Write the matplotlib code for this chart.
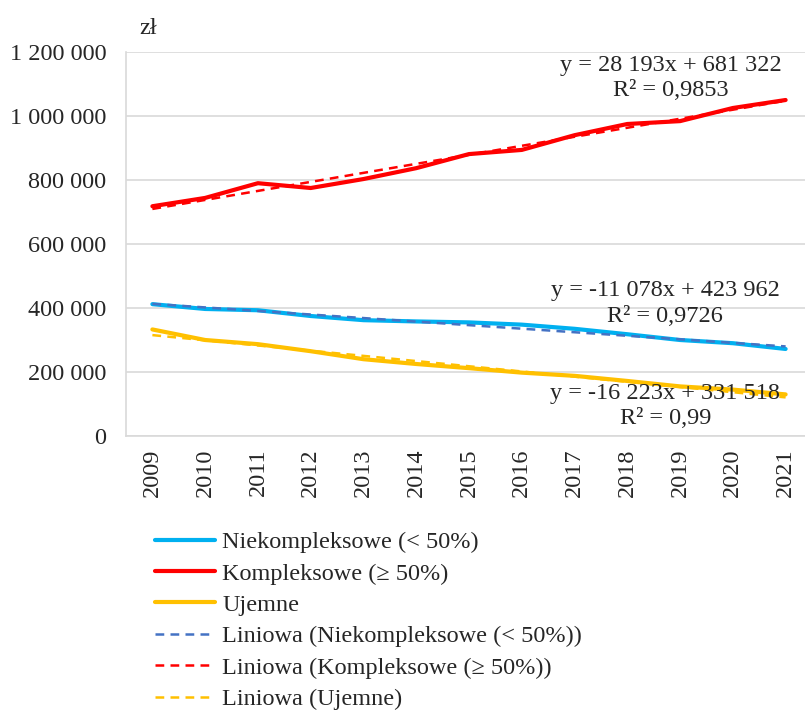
import numpy as np
import matplotlib
matplotlib.use("Agg")
import matplotlib.pyplot as plt
from matplotlib.ticker import FuncFormatter

plt.rcParams['font.family'] = ['Liberation Serif', 'DejaVu Serif']

years = ['2009', '2010', '2011', '2012', '2013', '2014', '2015', '2016',
         '2017', '2018', '2019', '2020', '2021']
niekompleksowe = [412000, 397000, 393000, 375000, 362000, 358000, 355000,
                  348000, 335000, 318000, 300000, 290000, 272000]
kompleksowe = [718000, 744000, 790000, 775000, 803000, 837000, 881000,
               894000, 940000, 975000, 984000, 1025000, 1050000]
ujemne = [333000, 300000, 287000, 265000, 240000, 225000, 212000,
          198000, 188000, 172000, 155000, 145000, 130000]

trend_niekompleksowe = (-11078, 423962)
trend_kompleksowe = (28193, 681322)
trend_ujemne = (-16223, 331518)

eq_niekompleksowe = ["y = -11 078x + 423 962", "R² = 0,9726"]
eq_kompleksowe = ["y = 28 193x + 681 322", "R² = 0,9853"]
eq_ujemne = ["y = -16 223x + 331 518", "R² = 0,99"]

labels = ['Niekompleksowe (< 50%)', 'Kompleksowe (≥ 50%)', 'Ujemne',
          'Liniowa (Niekompleksowe (< 50%))', 'Liniowa (Kompleksowe (≥ 50%))',
          'Liniowa (Ujemne)']

c_blue, c_red, c_yel, c_tblue = '#00B0F0', '#FF0000', '#FFC000', '#4472C4'
tc = '#262626'
FS = 17.5

fig = plt.figure(figsize=(8.05, 7.12), dpi=100)
ax = fig.add_axes([126/805, 1-436/712, 686/805, 384/712])

x = np.arange(len(years))
n = x + 1
l1, = ax.plot(x, niekompleksowe, color=c_blue, lw=3, solid_capstyle='round', zorder=3)
l2, = ax.plot(x, kompleksowe, color=c_red, lw=3, solid_capstyle='round', zorder=3)
l3, = ax.plot(x, ujemne, color=c_yel, lw=3, solid_capstyle='round', zorder=3)
ds = (0, (3.5, 2.5))
t1, = ax.plot(x, trend_niekompleksowe[0]*n + trend_niekompleksowe[1], color=c_tblue, lw=1.8, ls=ds, zorder=4)
t2, = ax.plot(x, trend_kompleksowe[0]*n + trend_kompleksowe[1], color=c_red, lw=1.8, ls=ds, zorder=4)
t3, = ax.plot(x, trend_ujemne[0]*n + trend_ujemne[1], color=c_yel, lw=1.8, ls=ds, zorder=4)

ax.set_xlim(-0.5, 12.5)
ax.set_ylim(0, 1200000)
ax.set_yticks(np.arange(0, 1200001, 200000))
ax.yaxis.set_major_formatter(FuncFormatter(lambda v, p: f"{int(v):,}".replace(",", " ")))
ax.set_xticks(x)
ax.set_xticklabels(years, rotation=90)
ax.tick_params(axis='both', length=0, labelsize=FS, colors=tc)
ax.tick_params(axis='x', pad=9)
ax.tick_params(axis='y', pad=14)
ax.grid(axis='y', color='#D9D9D9', lw=1.2)
ax.set_axisbelow(True)
for s in ['top', 'right']:
    ax.spines[s].set_visible(False)
for s in ['left', 'bottom']:
    ax.spines[s].set_color('#D9D9D9')
    ax.spines[s].set_linewidth(1.2)

fig.text(148/805, 1-28/712, 'zł', fontsize=FS, color=tc, ha='center', va='center')

def label(xc, ys, lines):
    for yv, s in zip(ys, lines):
        ax.text(xc, yv, s, fontsize=FS, color=tc, ha='center', va='center', zorder=5)

label(9.82, [1159000, 1081000], eq_kompleksowe)
label(9.72, [456000, 372000], eq_niekompleksowe)
label(9.72, [134000, 56000], eq_ujemne)

leg = fig.legend([l1, l2, l3, t1, t2, t3], labels, loc='upper left',
                 bbox_to_anchor=(155/805, 1-531/712), frameon=False, fontsize=FS,
                 handlelength=2.47, handletextpad=0.29, labelspacing=0.39,
                 borderpad=0, borderaxespad=0)
for t in leg.get_texts():
    t.set_color(tc)

fig.savefig('out.png', dpi=100)
